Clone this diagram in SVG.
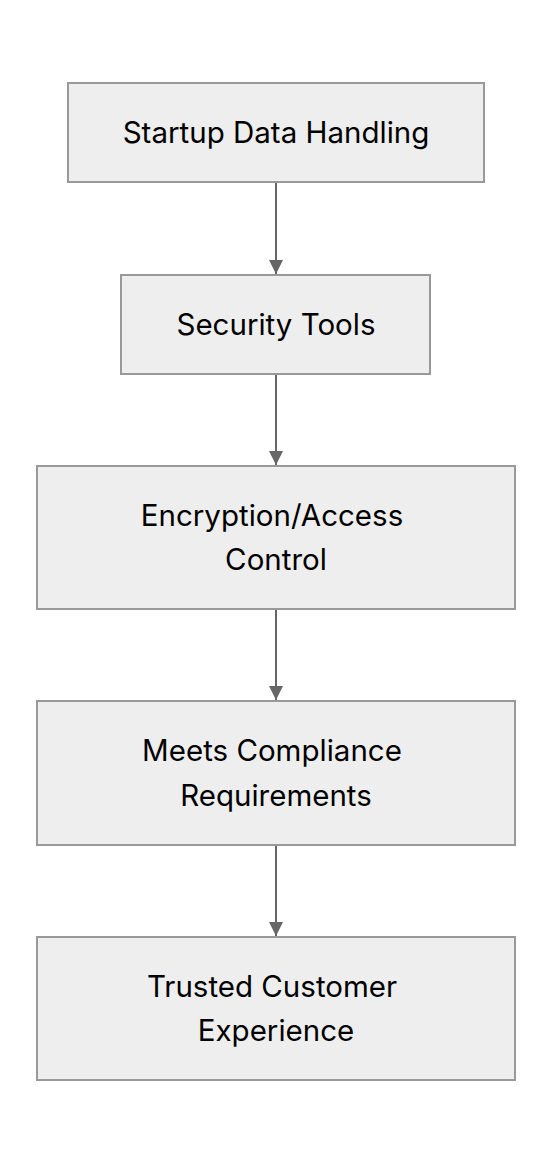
<svg xmlns="http://www.w3.org/2000/svg" width="552" height="1164" viewBox="0 0 552 1164">
<style>
.node rect{fill:#eeeeee;stroke:#999999;stroke-width:2}
.node text{font-family:Inter,"Liberation Sans",sans-serif;font-size:29.5px;fill:#000;text-anchor:middle}
.edges line{stroke:#666666;stroke-width:2}
</style>
<defs>
<marker id="arr" markerWidth="14" markerHeight="14" refX="14" refY="7" orient="auto" markerUnits="userSpaceOnUse">
<path d="M0,0 L14,7 L0,14 Z" fill="#666666"/>
</marker>
</defs>
<rect width="552" height="1164" fill="#ffffff"/>
<g class="edges">
<line x1="276" y1="183" x2="276" y2="274" marker-end="url(#arr)"/>
<line x1="276" y1="375" x2="276" y2="465" marker-end="url(#arr)"/>
<line x1="276" y1="610" x2="276" y2="700" marker-end="url(#arr)"/>
<line x1="276" y1="846" x2="276" y2="936" marker-end="url(#arr)"/>
</g>
<g id="n1" class="node"><rect x="68" y="83" width="416" height="99"/><text x="276" y="143">Startup Data Handling</text></g>
<g id="n2" class="node"><rect x="121" y="275" width="309" height="99"/><text x="276" y="335">Security Tools</text></g>
<g id="n3" class="node"><rect x="37" y="466" width="478" height="143"/><text x="272" y="526">Encryption/Access</text><text x="276" y="570">Control</text></g>
<g id="n4" class="node"><rect x="37" y="701" width="478" height="144"/><text x="272" y="761">Meets Compliance</text><text x="276" y="806">Requirements</text></g>
<g id="n5" class="node"><rect x="37" y="937" width="478" height="143"/><text x="272" y="997">Trusted Customer</text><text x="276" y="1041">Experience</text></g>
</svg>
